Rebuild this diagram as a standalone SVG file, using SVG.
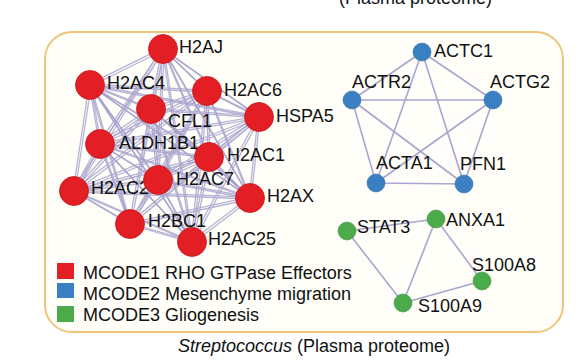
<svg xmlns="http://www.w3.org/2000/svg" xmlns:xlink="http://www.w3.org/1999/xlink" width="579" height="364" viewBox="0 0 579 364">
<style>
text{font-family:"Liberation Sans",Arial,sans-serif;font-size:18px;fill:#111}
.e{fill:none;stroke:#9f99c9;stroke-width:1.3;stroke-opacity:0.75}
.eb{fill:none;stroke:#aaa5d0;stroke-width:1.6}
.r{fill:#e31e24;stroke:#c8181c;stroke-width:0.8}
.b{fill:#3a7fc1;stroke:#2f6ea8;stroke-width:0.6}
.g{fill:#4bab4b;stroke:#3d953d;stroke-width:0.6}
</style>
<defs>
<path id="redEdges" class="e" d="M163 49L90 85M163 49L207 91M163 49L151 109M163 49L259 117M163 49L100 144M163 49L209 157M163 49L158 180M163 49L74 191M163 49L250 198M163 49L130 224M163 49L192 242
M90 85L207 91M90 85L151 109M90 85L259 117M90 85L100 144M90 85L209 157M90 85L158 180M90 85L74 191M90 85L250 198M90 85L130 224M90 85L192 242
M207 91L151 109M207 91L259 117M207 91L100 144M207 91L209 157M207 91L158 180M207 91L74 191M207 91L250 198M207 91L130 224M207 91L192 242
M151 109L259 117M151 109L100 144M151 109L209 157M151 109L158 180M151 109L74 191M151 109L250 198M151 109L130 224M151 109L192 242
M259 117L100 144M259 117L209 157M259 117L158 180M259 117L74 191M259 117L250 198M259 117L130 224M259 117L192 242
M100 144L209 157M100 144L158 180M100 144L74 191M100 144L250 198M100 144L130 224M100 144L192 242
M209 157L158 180M209 157L74 191M209 157L250 198M209 157L130 224M209 157L192 242
M158 180L74 191M158 180L250 198M158 180L130 224M158 180L192 242
M74 191L250 198M74 191L130 224M74 191L192 242
M250 198L130 224M250 198L192 242
M130 224L192 242"/>
</defs>
<rect width="579" height="364" fill="#fff"/>
<text x="339" y="4">(Plasma proteome)</text>
<rect id="frame" x="45" y="32" width="518" height="300" rx="27" fill="#fffef8" stroke="#f1c47a" stroke-width="2"/>
<g id="connectors">
<use xlink:href="#redEdges" transform="translate(-0.8,-0.8)"/>
<use xlink:href="#redEdges" transform="translate(1,1)"/>
<path class="eb" d="M422 52L352 100M422 52L493 100M422 52L376 183M422 52L464 184M352 100L493 100M352 100L376 183M352 100L464 184M493 100L376 183M493 100L464 184M376 183L464 184"/>
<path class="eb" d="M347 231L436 219M347 231L403 303M436 219L403 303M436 219L482 281M482 281L403 303"/>
</g>
<g id="H2AJ"><circle class="r" cx="163" cy="49" r="14.5"/><text x="179" y="53">H2AJ</text></g>
<g id="H2AC4"><circle class="r" cx="90" cy="85" r="14.5"/><text x="107" y="89">H2AC4</text></g>
<g id="H2AC6"><circle class="r" cx="207" cy="91" r="14.5"/><text x="224" y="96">H2AC6</text></g>
<g id="CFL1"><circle class="r" cx="151" cy="109" r="14.5"/><text x="168" y="127">CFL1</text></g>
<g id="HSPA5"><circle class="r" cx="259" cy="117" r="14.5"/><text x="276" y="122">HSPA5</text></g>
<g id="ALDH1B1"><circle class="r" cx="100" cy="144" r="14.5"/><text x="119" y="149">ALDH1B1</text></g>
<g id="H2AC1"><circle class="r" cx="209" cy="157" r="14.5"/><text x="227" y="161">H2AC1</text></g>
<g id="H2AC2"><circle class="r" cx="74" cy="191" r="14.5"/><text x="91" y="194">H2AC2</text></g>
<g id="H2AC7"><circle class="r" cx="158" cy="180" r="14.5"/><text x="176" y="185">H2AC7</text></g>
<g id="H2AX"><circle class="r" cx="250" cy="198" r="14.5"/><text x="267" y="202">H2AX</text></g>
<g id="H2BC1"><circle class="r" cx="130" cy="224" r="14.5"/><text x="148" y="227">H2BC1</text></g>
<g id="H2AC25"><circle class="r" cx="192" cy="242" r="14.5"/><text x="208" y="245">H2AC25</text></g>
<g id="ACTC1"><circle class="b" cx="422" cy="52" r="9"/><text x="434" y="57">ACTC1</text></g>
<g id="ACTR2"><circle class="b" cx="352" cy="100" r="9"/><text x="352" y="88">ACTR2</text></g>
<g id="ACTG2"><circle class="b" cx="493" cy="100" r="9"/><text x="490" y="88">ACTG2</text></g>
<g id="ACTA1"><circle class="b" cx="376" cy="183" r="9"/><text x="376" y="169">ACTA1</text></g>
<g id="PFN1"><circle class="b" cx="464" cy="184" r="9"/><text x="460" y="170">PFN1</text></g>
<g id="STAT3"><circle class="g" cx="347" cy="231" r="9"/><text x="357" y="233">STAT3</text></g>
<g id="ANXA1"><circle class="g" cx="436" cy="219" r="9"/><text x="446" y="226">ANXA1</text></g>
<g id="S100A8"><circle class="g" cx="482" cy="281" r="9"/><text x="472" y="271">S100A8</text></g>
<g id="S100A9"><circle class="g" cx="403" cy="303" r="9"/><text x="418" y="312">S100A9</text></g>
<g id="legend">
<rect x="57" y="263" width="17" height="16" fill="#e31e24"/>
<text x="83" y="279">MCODE1 RHO GTPase Effectors</text>
<rect x="57" y="283" width="17" height="15" fill="#3a7fc1"/>
<text x="83" y="300">MCODE2 Mesenchyme migration</text>
<rect x="57" y="306" width="17" height="16" fill="#4bab4b"/>
<text x="83" y="321">MCODE3 Gliogenesis</text>
</g>
<text id="caption" x="178" y="352"><tspan font-style="italic">Streptococcus</tspan> (Plasma proteome)</text>
</svg>
